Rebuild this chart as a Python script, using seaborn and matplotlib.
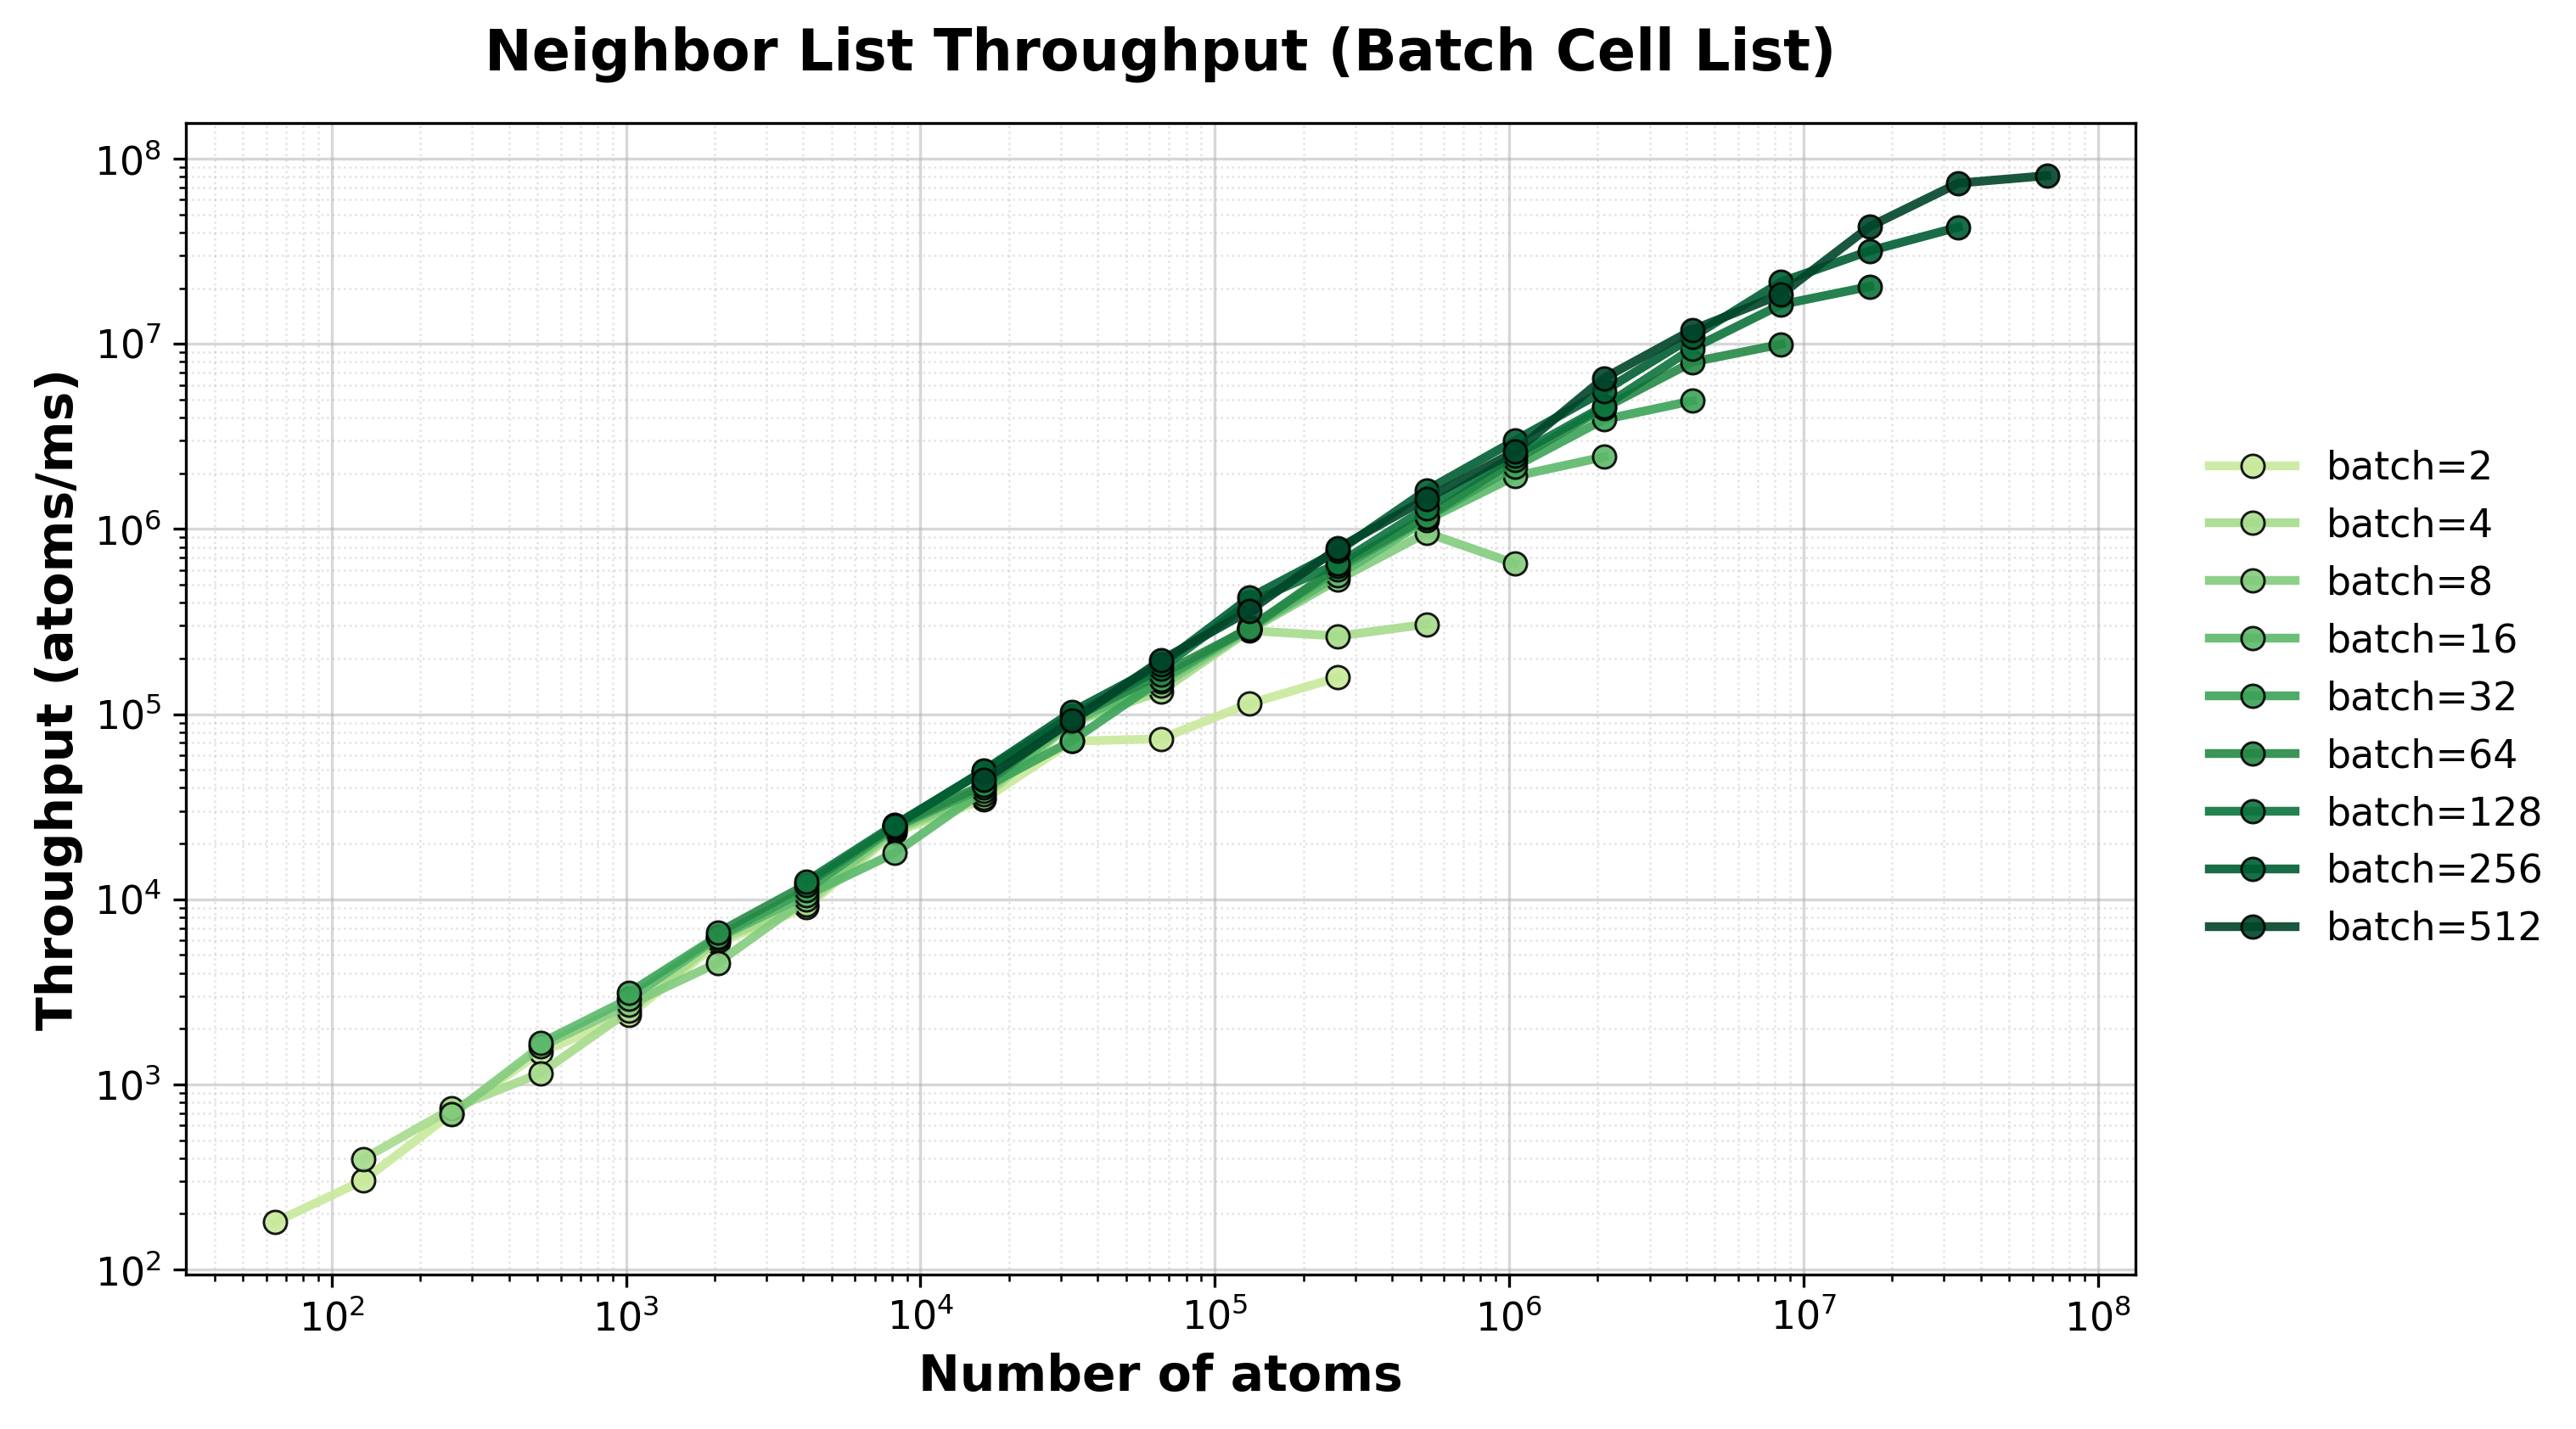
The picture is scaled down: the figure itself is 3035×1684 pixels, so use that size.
import numpy as np
import pandas as pd
import seaborn as sns
import matplotlib.pyplot as plt

# batch sizes and atoms per system (total atoms = batch * atoms per system)
batch_sizes = [2, 4, 8, 16, 32, 64, 128, 256, 512]
system_sizes = [32, 64, 128, 256, 512, 1024, 2048, 4096, 8192, 16384, 32768, 65536, 131072]

# throughput (atoms/ms), one list per batch size, same order as system_sizes
tp_b2 = [180, 303, 700, 1490, 2370, 5800, 9100, 2.3e4, 3.45e4, 7.15e4, 7.36e4, 1.14e5, 1.58e5]
tp_b4 = [396, 740, 1150, 2500, 6000, 9400, 2.35e4, 3.55e4, 9.0e4, 1.33e5, 2.83e5, 2.64e5, 3.06e5]
tp_b8 = [690, 1600, 2700, 4540, 1.0e4, 2.4e4, 3.7e4, 9.1e4, 1.42e5, 2.85e5, 5.33e5, 9.55e5, 6.5e5]
tp_b16 = [1670, 2900, 6200, 1.05e4, 1.78e4, 3.85e4, 9.2e4, 1.5e5, 2.9e5, 5.62e5, 1.12e6, 1.93e6, 2.45e6]
tp_b32 = [3130, 6300, 1.12e4, 2.45e4, 4.0e4, 7.2e4, 1.53e5, 2.95e5, 6.04e5, 1.15e6, 2.18e6, 3.9e6, 4.92e6]
tp_b64 = [6600, 1.2e4, 2.5e4, 4.15e4, 9.5e4, 1.64e5, 2.9e5, 6.3e5, 1.16e6, 2.36e6, 4.5e6, 7.98e6, 9.95e6]
tp_b128 = [1.25e4, 2.53e4, 4.9e4, 9.8e4, 1.76e5, 4.0e5, 6.49e5, 1.3e6, 2.5e6, 4.6e6, 9.44e6, 1.63e7, 2.04e7]
tp_b256 = [2.5e4, 4.95e4, 1.03e5, 1.85e5, 4.25e5, 7.6e5, 1.62e6, 3.01e6, 5.56e6, 1.09e7, 2.16e7, 3.18e7, 4.27e7]
tp_b512 = [4.4e4, 9.2e4, 1.95e5, 3.62e5, 7.87e5, 1.46e6, 2.62e6, 6.52e6, 1.19e7, 1.85e7, 4.3e7, 7.38e7, 8.1e7]

throughputs = [tp_b2, tp_b4, tp_b8, tp_b16, tp_b32, tp_b64, tp_b128, tp_b256, tp_b512]

rows = []
for b, tp in zip(batch_sizes, throughputs):
    for n, t in zip(system_sizes, tp):
        rows.append({"atoms": b * n, "throughput": t, "batch": f"batch={b}"})
df = pd.DataFrame(rows)
labels = [f"batch={b}" for b in batch_sizes]

colors = plt.cm.YlGn(np.linspace(0.3, 1.0, len(batch_sizes)))

fig = plt.figure(figsize=(3035 / 300, 1684 / 300), dpi=300)
ax = fig.add_axes([0.0722, 0.108, 0.7568, 0.8057])

sns.lineplot(data=df, x="atoms", y="throughput", hue="batch", hue_order=labels,
             palette=list(colors), marker="o", linewidth=2.5, markersize=6.5,
             markeredgecolor="black", markeredgewidth=0.7, alpha=0.9,
             ax=ax, sort=True)

ax.set_xscale("log")
ax.set_yscale("log")

ax.grid(True, which="major", linestyle="-", linewidth=0.8, alpha=0.5)
ax.grid(True, which="minor", linestyle=":", linewidth=0.6, alpha=0.35)
ax.tick_params(labelsize=11)

ax.set_xlabel("Number of atoms", fontsize=14, fontweight="bold")
ax.set_ylabel("Throughput (atoms/ms)", fontsize=14, fontweight="bold", labelpad=3)
ax.set_title("Neighbor List Throughput (Batch Cell List)", fontsize=16, fontweight="bold", pad=15)

sns.move_legend(ax, "center left", bbox_to_anchor=(1.02, 0.5), frameon=False,
                title=None, fontsize=11, handlelength=2.2)

fig.savefig("out.png", dpi=300)
